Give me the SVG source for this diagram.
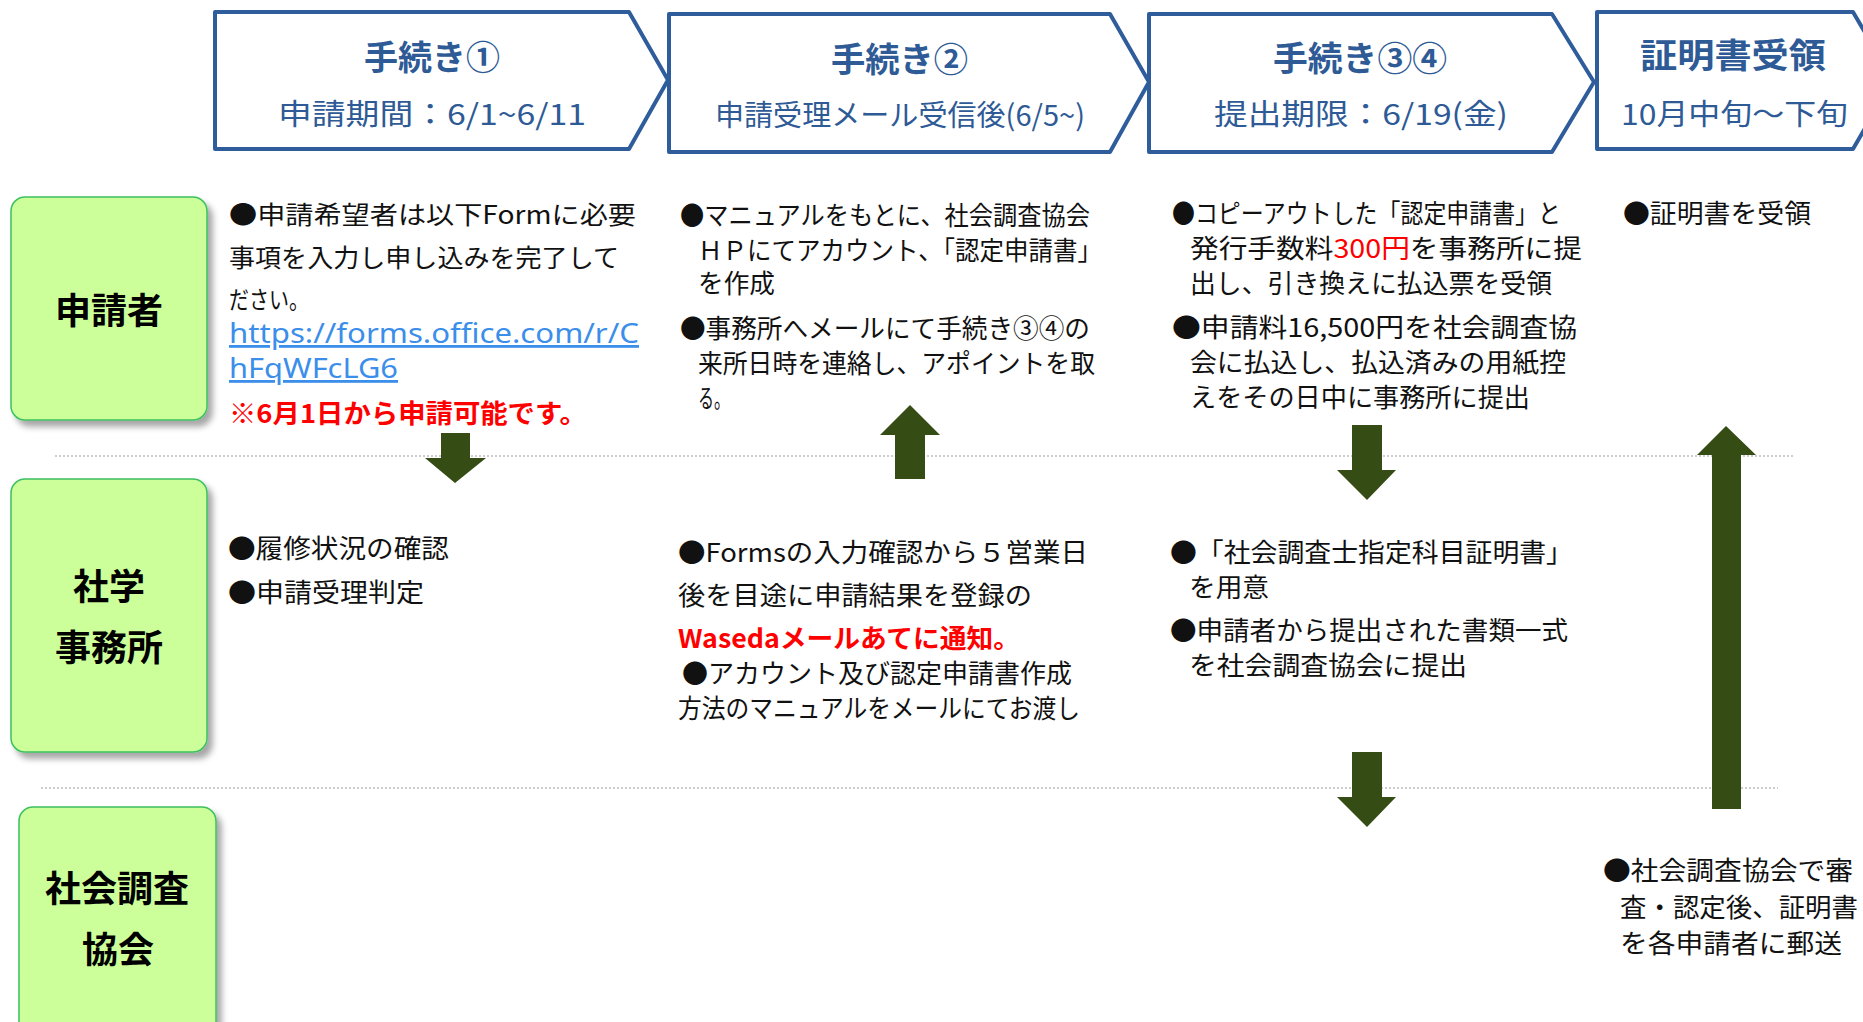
<svg xmlns="http://www.w3.org/2000/svg" width="1863" height="1022" viewBox="0 0 1863 1022">
<defs>
<filter id="sh" x="-20%" y="-20%" width="150%" height="150%">
<feDropShadow dx="5" dy="6" stdDeviation="3" flood-color="#000" flood-opacity="0.35"/>
</filter>
<style>
.chev{fill:#fff;stroke:#2F5D9B;stroke-width:4;stroke-linejoin:round}
.ht{font-family:"Noto Sans CJK JP",sans-serif;font-weight:bold;font-size:34px;fill:#2E5A96}
.hs{font-family:"Noto Sans CJK JP",sans-serif;font-size:29px;fill:#2E5A96}
.lane{fill:#CCFF99;stroke:#3CC060;stroke-width:1.5}
.lt{font-family:"Noto Sans CJK JP",sans-serif;font-weight:bold;font-size:36px;fill:#000;text-anchor:middle}
.b{font-family:"Noto Sans CJK JP",sans-serif;font-size:26px;fill:#111}
.b1{font-family:"Noto Sans CJK JP",sans-serif;font-size:25px;fill:#111}
.red{fill:#FF0000}
.rb{font-family:"Noto Sans CJK JP",sans-serif;font-size:26px;font-weight:bold;fill:#FF0000}
.lk{font-family:"Noto Sans","Noto Sans CJK JP",sans-serif;font-size:28px;fill:#3B8EEA;text-decoration:underline}
.sep{stroke:#BDBDBD;stroke-width:1.5;stroke-dasharray:2 2;fill:none}
.ar{fill:#354C15}
</style>
</defs>
<rect width="1863" height="1022" fill="#fff"/>

<g id="header1">
<path class="chev" d="M215,12 L629,12 L668,80 L629,149 L215,149 Z"/>
<text class="ht" x="364" y="70" textLength="136" lengthAdjust="spacingAndGlyphs">手続き①</text>
<text class="hs" x="278" y="125" textLength="308" lengthAdjust="spacingAndGlyphs">申請期間：6/1~6/11</text>
</g>
<g id="header2">
<path class="chev" d="M669,14 L1110,14 L1149,82 L1110,152 L669,152 Z"/>
<text class="ht" x="831" y="72" textLength="137" lengthAdjust="spacingAndGlyphs">手続き②</text>
<text class="hs" x="715" y="126" textLength="370" lengthAdjust="spacingAndGlyphs">申請受理メール受信後(6/5~)</text>
</g>
<g id="header3">
<path class="chev" d="M1149,14 L1552,14 L1594,82 L1552,152 L1149,152 Z"/>
<text class="ht" x="1273" y="71" textLength="174" lengthAdjust="spacingAndGlyphs">手続き③④</text>
<text class="hs" x="1214" y="125" textLength="294" lengthAdjust="spacingAndGlyphs">提出期限：6/19(金)</text>
</g>
<g id="header4">
<path class="chev" d="M1597,12 L1853,12 L1893,80 L1853,149 L1597,149 Z"/>
<text class="ht" x="1640" y="68" font-size="36" textLength="186" lengthAdjust="spacingAndGlyphs">証明書受領</text>
<text class="hs" x="1621" y="125" textLength="227" lengthAdjust="spacingAndGlyphs">10月中旬～下旬</text>
</g>

<g id="separators">
<line class="sep" x1="55" y1="456" x2="1793" y2="456"/>
<line class="sep" x1="41" y1="788" x2="1778" y2="788"/>
</g>

<g id="lane-applicant">
<rect class="lane" x="11" y="197" width="196" height="223" rx="14" filter="url(#sh)"/>
<text class="lt" x="109" y="324">申請者</text>
</g>
<g id="lane-office">
<rect class="lane" x="11" y="479" width="196" height="273" rx="14" filter="url(#sh)"/>
<text class="lt" x="109" y="600">社学</text>
<text class="lt" x="109" y="661">事務所</text>
</g>
<g id="lane-association">
<rect class="lane" x="19" y="807" width="197" height="240" rx="14" filter="url(#sh)"/>
<text class="lt" x="117" y="902">社会調査</text>
<text class="lt" x="118" y="963">協会</text>
</g>

<g id="step1-applicant">
<text class="b1" x="229" y="224" textLength="407" lengthAdjust="spacingAndGlyphs">●申請希望者は以下Formに必要</text>
<text class="b1" x="229" y="267" textLength="390" lengthAdjust="spacingAndGlyphs">事項を入力し申し込みを完了して</text>
<text class="b1" x="229" y="309" textLength="80" lengthAdjust="spacingAndGlyphs">ださい。</text>
<text class="lk" x="229" y="343" textLength="410" lengthAdjust="spacingAndGlyphs">https://forms.office.com/r/C</text>
<text class="lk" x="229" y="378" textLength="169" lengthAdjust="spacingAndGlyphs">hFqWFcLG6</text>
<text class="rb" x="229" y="423" textLength="358" lengthAdjust="spacingAndGlyphs">※6月1日から申請可能です。</text>
</g>
<g id="step1-office">
<text class="b" x="228" y="558" textLength="221" lengthAdjust="spacingAndGlyphs">●履修状況の確認</text>
<text class="b" x="228" y="602" textLength="196" lengthAdjust="spacingAndGlyphs">●申請受理判定</text>
</g>

<g id="step2-applicant">
<text class="b" x="680" y="225" textLength="410" lengthAdjust="spacingAndGlyphs">●マニュアルをもとに、社会調査協会</text>
<text class="b" x="698" y="260" textLength="404" lengthAdjust="spacingAndGlyphs">ＨＰにてアカウント、「認定申請書」</text>
<text class="b" x="698" y="293" textLength="77" lengthAdjust="spacingAndGlyphs">を作成</text>
<text class="b" x="680" y="338" textLength="410" lengthAdjust="spacingAndGlyphs">●事務所へメールにて手続き③④の</text>
<text class="b" x="698" y="373" textLength="397" lengthAdjust="spacingAndGlyphs">来所日時を連絡し、アポイントを取</text>
<text class="b" x="698" y="408" textLength="32" lengthAdjust="spacingAndGlyphs">る。</text>
</g>
<g id="step2-office">
<text class="b" x="678" y="562" textLength="410" lengthAdjust="spacingAndGlyphs">●Formsの入力確認から５営業日</text>
<text class="b" x="678" y="605" textLength="354" lengthAdjust="spacingAndGlyphs">後を目途に申請結果を登録の</text>
<text class="rb" x="678" y="648" textLength="342" lengthAdjust="spacingAndGlyphs">Wasedaメールあてに通知。</text>
<text class="b" x="682" y="683" textLength="390" lengthAdjust="spacingAndGlyphs">●アカウント及び認定申請書作成</text>
<text class="b" x="678" y="718" textLength="402" lengthAdjust="spacingAndGlyphs">方法のマニュアルをメールにてお渡し</text>
</g>

<g id="step3-applicant">
<text class="b" x="1172" y="223" textLength="389" lengthAdjust="spacingAndGlyphs">●コピーアウトした「認定申請書」と</text>
<text class="b" x="1190" y="258" textLength="392" lengthAdjust="spacingAndGlyphs">発行手数料<tspan class="red">300円</tspan>を事務所に提</text>
<text class="b" x="1190" y="293" textLength="362" lengthAdjust="spacingAndGlyphs">出し、引き換えに払込票を受領</text>
<text class="b" x="1172" y="337" textLength="405" lengthAdjust="spacingAndGlyphs">●申請料16,500円を社会調査協</text>
<text class="b" x="1190" y="372" textLength="376" lengthAdjust="spacingAndGlyphs">会に払込し、払込済みの用紙控</text>
<text class="b" x="1190" y="407" textLength="340" lengthAdjust="spacingAndGlyphs">えをその日中に事務所に提出</text>
</g>
<g id="step3-office">
<text class="b" x="1170" y="562" textLength="403" lengthAdjust="spacingAndGlyphs">●「社会調査士指定科目証明書」</text>
<text class="b" x="1189" y="597" textLength="80" lengthAdjust="spacingAndGlyphs">を用意</text>
<text class="b" x="1170" y="640" textLength="398" lengthAdjust="spacingAndGlyphs">●申請者から提出された書類一式</text>
<text class="b" x="1189" y="675" textLength="278" lengthAdjust="spacingAndGlyphs">を社会調査協会に提出</text>
</g>

<g id="step4-applicant">
<text class="b" x="1623" y="223" textLength="188" lengthAdjust="spacingAndGlyphs">●証明書を受領</text>
</g>
<g id="step4-association">
<text class="b" x="1603" y="880" textLength="250" lengthAdjust="spacingAndGlyphs">●社会調査協会で審</text>
<text class="b" x="1620" y="917" textLength="238" lengthAdjust="spacingAndGlyphs">査・認定後、証明書</text>
<text class="b" x="1620" y="953" textLength="222" lengthAdjust="spacingAndGlyphs">を各申請者に郵送</text>
</g>

<g id="connectors">
<polygon class="ar" points="441,433 470,433 470,458 486,458 455,483 425,458 441,458"/>
<polygon class="ar" points="910,405 940,435 925,435 925,479 895,479 895,435 880,435"/>
<polygon class="ar" points="1352,425 1382,425 1382,470 1396,470 1367,500 1337,470 1352,470"/>
<polygon class="ar" points="1352,752 1382,752 1382,797 1396,797 1367,827 1337,797 1352,797"/>
<polygon class="ar" points="1726,426 1756,455 1741,455 1741,809 1712,809 1712,455 1697,455"/>
</g>
</svg>
